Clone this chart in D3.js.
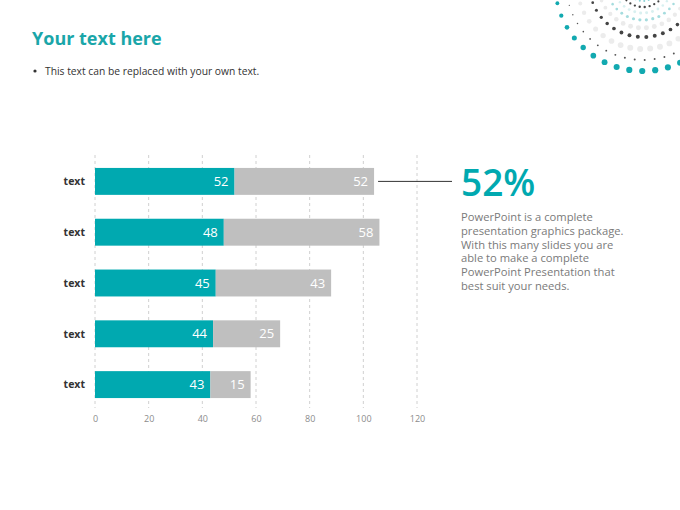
<!DOCTYPE html>
<html>
<head>
<meta charset="utf-8">
<script src="https://cdn.jsdelivr.net/npm/d3@7"></script>
<style>
  html, body { margin: 0; padding: 0; background: #fff; }
  svg { display: block; font-family: "Open Sans", "Noto Sans", sans-serif; }
</style>
</head>
<body>
<div id="root"></div>
<script>
const width = 680;
const height = 510;

// chart data
const categories = ["c1", "c2", "c3", "c4", "c5"];
const categoryLabels = ["text", "text", "text", "text", "text"];
const seriesA = [52, 48, 45, 44, 43];
const seriesB = [52, 58, 43, 25, 15];
const xTicks = [0, 20, 40, 60, 80, 100, 120];

const headline = "52%";
const descLines = [
  "PowerPoint is a complete",
  "presentation graphics package.",
  "With this many slides you are",
  "able to make a complete",
  "PowerPoint Presentation that",
  "best suit your needs."
];

// decorative dot rings (radius, dot size, colour, spacing along arc)
const rings = [
  { r: 88, dot: 3.1, color: "#12a9b0", gap: 13 },
  { r: 77, dot: 1.0, color: "#555555", gap: 10 },
  { r: 66, dot: 3.0, color: "#ececec", gap: 10 },
  { r: 54, dot: 2.0, color: "#444444", gap: 8.5 },
  { r: 45, dot: 2.5, color: "#ebebeb", gap: 8 },
  { r: 37, dot: 1.6, color: "#a5dcde", gap: 6.5 },
  { r: 30, dot: 1.5, color: "#d8f0f0", gap: 6 },
  { r: 24, dot: 1.2, color: "#444444", gap: 5 },
  { r: 18, dot: 1.0, color: "#8fd3d6", gap: 4.5 }
];

const teal = "#00a9b0";
const grey = "#bfbfbf";

const svg = d3.select("#root")
  .append("svg")
    .attr("width", width)
    .attr("height", height);

// title block
svg.append("text")
  .attr("x", 32).attr("y", 45)
  .attr("fill", "#1aa6a9")
  .attr("font-size", 18)
  .attr("font-weight", "bold")
  .text("Your text here");

svg.append("circle")
  .attr("cx", 35).attr("cy", 71).attr("r", 1.6)
  .attr("fill", "#333");

svg.append("text")
  .attr("x", 45).attr("y", 75)
  .attr("fill", "#333")
  .attr("font-size", 10.3)
  .text("This text can be replaced with your own text.");

// decorative rings top-right
const deco = svg.append("g").attr("transform", "translate(643,-17)");
rings.forEach(ring => {
  const step = ring.gap / ring.r;
  const dots = [];
  for (let a = 0.25; a < Math.PI * 0.95; a += step) dots.push(a);
  deco.selectAll(null)
    .data(dots).enter()
    .append("circle")
      .attr("cx", a => Math.cos(a) * ring.r)
      .attr("cy", a => Math.sin(a) * ring.r)
      .attr("r", a => ring.dot * (0.5 + 0.5 * Math.sin(a)))
      .attr("fill", ring.color);
});

// scales
const x = d3.scaleLinear()
  .domain([0, 120])
  .range([95, 417]);

const y = d3.scaleBand()
  .domain(categories)
  .range([156, 410])
  .paddingInner(0.47)
  .paddingOuter(0.235);

// grid
svg.append("g")
  .selectAll("line")
  .data(xTicks).enter()
  .append("line")
    .attr("x1", d => x(d)).attr("x2", d => x(d))
    .attr("y1", 155).attr("y2", 408)
    .attr("stroke", "#d0d0d0")
    .attr("stroke-dasharray", "3,3");

// axis labels
const xAxis = svg.append("g")
  .attr("transform", "translate(0,412)")
  .call(d3.axisBottom(x).tickValues(xTicks).tickSize(0).tickPadding(4));
xAxis.select(".domain").remove();
xAxis.selectAll("text")
  .attr("fill", "#8c8c8c")
  .attr("font-size", 9)
  .attr("font-family", "Open Sans, sans-serif");

const rows = categories.map((c, i) => ({ key: c, label: categoryLabels[i], a: seriesA[i], b: seriesB[i] }));

const row = svg.append("g")
  .selectAll("g")
  .data(rows).enter()
  .append("g");

row.append("rect")
  .attr("x", x(0))
  .attr("y", d => y(d.key))
  .attr("width", d => x(d.a) - x(0))
  .attr("height", y.bandwidth())
  .attr("fill", teal);

row.append("rect")
  .attr("x", d => x(d.a))
  .attr("y", d => y(d.key))
  .attr("width", d => x(d.a + d.b) - x(d.a))
  .attr("height", y.bandwidth())
  .attr("fill", grey);

row.append("text")
  .attr("x", d => x(d.a) - 6)
  .attr("y", d => y(d.key) + y.bandwidth() / 2)
  .attr("dy", "0.36em")
  .attr("text-anchor", "end")
  .attr("fill", "#fff")
  .attr("font-size", 13)
  .text(d => d.a);

row.append("text")
  .attr("x", d => x(d.a + d.b) - 6)
  .attr("y", d => y(d.key) + y.bandwidth() / 2)
  .attr("dy", "0.36em")
  .attr("text-anchor", "end")
  .attr("fill", "#fff")
  .attr("font-size", 13)
  .text(d => d.b);

row.append("text")
  .attr("x", 85)
  .attr("y", d => y(d.key) + y.bandwidth() / 2)
  .attr("dy", "0.36em")
  .attr("text-anchor", "end")
  .attr("fill", "#333")
  .attr("font-size", 10.5)
  .attr("font-weight", "bold")
  .text(d => d.label);

// callout from first bar
const first = rows[0];
const cy = y(first.key) + y.bandwidth() / 2;
svg.append("line")
  .attr("x1", x(first.a + first.b) + 4)
  .attr("x2", 452)
  .attr("y1", cy).attr("y2", cy)
  .attr("stroke", "#333")
  .attr("stroke-width", 1);

svg.append("text")
  .attr("x", 461).attr("y", 196)
  .attr("fill", teal)
  .attr("font-size", 37)
  .attr("font-weight", 600)
  .text(headline);

svg.append("g")
  .selectAll("text")
  .data(descLines).enter()
  .append("text")
    .attr("x", 461)
    .attr("y", (d, i) => 221 + i * 13.8)
    .attr("fill", "#7a7a7a")
    .attr("font-size", 11.2)
    .text(d => d);
</script>
</body>
</html>
